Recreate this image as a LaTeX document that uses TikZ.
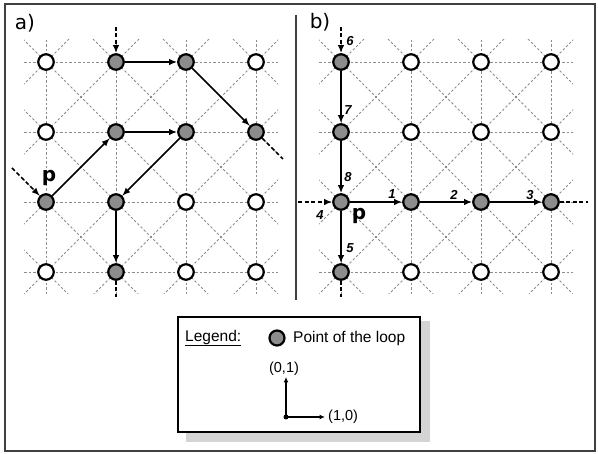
\documentclass[tikz,border=0pt]{standalone}
\usepackage{fontspec}
\setmainfont{Liberation Sans}
\newfontfamily\djv{DejaVu Sans}
\usetikzlibrary{arrows.meta}
\begin{document}
\begin{tikzpicture}[x=1pt,y=-1pt,
  pt/.style={circle,draw=black,line width=2.2pt,minimum size=15.5pt,inner sep=0pt,fill=white},
  loop/.style={pt,fill=black!45},
  gridln/.style={black!45,dash pattern=on 2.5pt off 2pt,line width=0.75pt},
  link/.style={line width=1.6pt,-{Latex[length=8pt,width=6.5pt]}},
  dlink/.style={line width=1.6pt,dash pattern=on 4pt off 2.5pt,-{Latex[length=8pt,width=6.5pt]}},
  dend/.style={line width=1.6pt,dash pattern=on 4pt off 2.5pt},
  num/.style={font=\fontsize{13}{13}\selectfont\bfseries\itshape,inner sep=0pt},
  plabel/.style={font=\djv\fontsize{20}{20}\selectfont\bfseries,inner sep=0pt},
  panel/.style={font=\djv\fontsize{20}{20}\selectfont,inner sep=0pt},
  frameln/.style={draw=black!75,line width=1.3pt},
  leg/.style={font=\fontsize{15.5}{15.5}\selectfont,inner sep=0pt},
  axlab/.style={font=\fontsize{14.5}{14.5}\selectfont,inner sep=0pt},
  axis/.style={line width=1.2pt,-{Latex[length=5.5pt,width=5pt]}}
]
\useasboundingbox (0,0) rectangle (598,454);
\draw[frameln] (5,4) rectangle (595,451);
\draw[frameln] (296,15) -- (296,300);

% background grids
\foreach \ox in {0,295}{
  \begin{scope}[xshift=\ox pt]
    \clip (24,40) rectangle (278,294);
    \foreach \y in {62,132,202,272} \draw[gridln] (24,\y) -- (278,\y);
    \foreach \x in {46,116,186,256} \draw[gridln] (\x,40) -- (\x,294);
    \foreach \k in {-3,...,6}{
      \draw[gridln] ({46+70*\k-300},-238) -- ({46+70*\k+300},362);
      \draw[gridln] ({46+70*\k-300},362) -- ({46+70*\k+300},-238);
    }
  \end{scope}
}

% panel a nodes
\foreach \i/\j/\s in {1/1/pt,2/1/loop,3/1/loop,4/1/pt,
                      1/2/pt,2/2/loop,3/2/loop,4/2/loop,
                      1/3/loop,2/3/loop,3/3/pt,4/3/pt,
                      1/4/pt,2/4/loop,3/4/pt,4/4/pt}
  \node[\s] (a\i\j) at ({46+70*(\i-1)},{62+70*(\j-1)}) {};
% panel b nodes
\foreach \i/\j/\s in {1/1/loop,2/1/pt,3/1/pt,4/1/pt,
                      1/2/loop,2/2/pt,3/2/pt,4/2/pt,
                      1/3/loop,2/3/loop,3/3/loop,4/3/loop,
                      1/4/loop,2/4/pt,3/4/pt,4/4/pt}
  \node[\s] (b\i\j) at ({341+70*(\i-1)},{62+70*(\j-1)}) {};

\node[panel] (pa) at (25,23) {a)};
\node[panel] (pb) at (320,22) {b)};

% panel a connectors
\coordinate (ain) at (116,27);
\coordinate (apin) at (12,168);
\coordinate (aout) at (283,159);
\coordinate (abot) at (116,297);
\draw[dlink] (ain) -- (a21);
\draw[link] (a21) -- (a31);
\draw[link] (a31) -- (a42);
\draw[dend] (a42) -- (aout);
\draw[dlink] (apin) -- (a13);
\draw[link] (a13) -- (a22);
\draw[link] (a22) -- (a32);
\draw[link] (a32) -- (a23);
\draw[link] (a23) -- (a24);
\draw[dend] (a24) -- (abot);
\node[plabel] (ap) at (49,178) {p};

% panel b connectors
\coordinate (bin) at (341,27);
\coordinate (bl) at (298,202);
\coordinate (br) at (588,202);
\coordinate (bbot) at (341,297);
\draw[dlink] (bin) -- (b11);
\draw[link] (b11) -- (b12);
\draw[link] (b12) -- (b13);
\draw[dlink] (bl) -- (b13);
\draw[link] (b13) -- (b23);
\draw[link] (b23) -- (b33);
\draw[link] (b33) -- (b43);
\draw[dend] (b43) -- (br);
\draw[link] (b13) -- (b14);
\draw[dend] (b14) -- (bbot);
\node[plabel] (bp) at (359,216) {p};
\node[num] (n6) at (350,41) {6};
\node[num] (n7) at (348,110) {7};
\node[num] (n8) at (348,177) {8};
\node[num] (n1) at (392,194) {1};
\node[num] (n2) at (454,195) {2};
\node[num] (n3) at (530,195) {3};
\node[num] (n4) at (320,215) {4};
\node[num] (n5) at (350,248) {5};

% legend
\fill[black!17] (186,321) rectangle (430,442);
\node[draw=black,line width=1.3pt,fill=white,minimum width=242pt,minimum height=115pt,inner sep=0pt] (legendbox) at (299,374.5) {};
\node[leg,anchor=west] (lg) at (185,338) {\underline{Legend:}};
\node[loop,minimum size=15pt] (lc) at (277,338) {};
\node[leg,anchor=west] (lt) at (293,338) {Point of the loop};
\node[circle,fill=black,inner sep=0pt,minimum size=5pt] (o) at (286,417) {};
\coordinate (oy) at (286,377);
\coordinate (ox) at (325,417);
\draw[axis] (o.center) -- (oy);
\draw[axis] (o.center) -- (ox);
\node[axlab] (l01) at (284,369) {(0,1)};
\node[axlab,anchor=west] (l10) at (328,417) {(1,0)};
\end{tikzpicture}
\end{document}
